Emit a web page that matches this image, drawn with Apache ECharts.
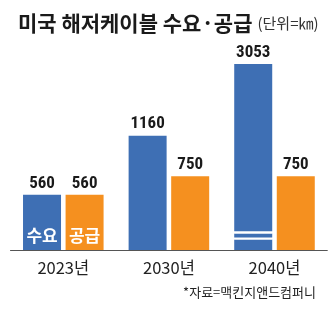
<!DOCTYPE html>
<html>
<head>
<meta charset="utf-8">
<script src="https://cdn.jsdelivr.net/npm/echarts@6/dist/echarts.min.js"></script>
<style>
  html, body { margin: 0; padding: 0; background: #fff; }
  #chart { width: 336px; height: 332px; }
</style>
</head>
<body>
<div id="chart"></div>
<script>
// ---- data ----
const categories = ['2023년', '2030년', '2040년'];
const demand = [560, 1160, 3053];        // 수요 (km)
const supply = [560, 750, 750];          // 공급 (km)
const demandShown = [560, 1160, 1888];   // drawn height (2040 bar is broken)
const seriesNames = ['수요', '공급'];
const titleText = '미국 해저케이블 수요·공급';
const unitText = '(단위=㎞)';
const sourceText = '*자료=맥킨지앤드컴퍼니';

// ---- styles ----
const BLUE = '#3e6fb4';
const ORANGE = '#f5901f';
const CJK = '"Noto Sans CJK KR", sans-serif';
const NUM = '"Roboto Condensed", Roboto, "Noto Sans CJK KR", sans-serif';
const BREAK = [107, 20, 41, 23]; // bottom, stripe, middle, stripe (axis units)
const breakSum = BREAK.reduce((a, b) => a + b, 0);
const isBroken = i => demand[i] > demandShown[i];

const common = { type: 'bar', barWidth: 38, barGap: '12%', silent: true, animation: false };
const valueLabel = (arr) => ({
  show: true, position: 'top', distance: 3,
  fontFamily: NUM, fontWeight: 'bold', fontSize: 17, color: '#1a1a1a',
  formatter: p => String(arr[p.dataIndex])
});
const innerLabel = (txt) => ({
  show: true, position: 'insideBottom', distance: 6,
  fontFamily: CJK, fontWeight: 'bold', fontSize: 17, color: '#fff',
  formatter: txt
});

const seg1 = demandShown.map((v, i) => ({
  value: isBroken(i) ? BREAK[0] : v,
  label: i === 0 ? innerLabel(seriesNames[0]) : { show: false }
}));
const segN = (k) => demandShown.map((v, i) => isBroken(i) ? BREAK[k] : '-');
const segTop = demandShown.map((v, i) => isBroken(i) ? v - breakSum : '-');

const option = {
  animation: false,
  title: [
    {
      left: 13, top: 8,
      text: '{a|' + titleText + '} {b|' + unitText + '}',
      textStyle: {
        rich: {
          a: { fontFamily: CJK, fontWeight: 'bold', fontSize: 21, color: '#1a1a1a' },
          b: { fontFamily: CJK, fontWeight: 'normal', fontSize: 15, color: '#333' }
        }
      }
    },
    {
      right: 15, top: 281,
      text: sourceText,
      textStyle: { fontFamily: CJK, fontWeight: 'normal', fontSize: 13, color: '#222' }
    }
  ],
  grid: { left: 10.5, right: 8.7, top: 53, bottom: 82, containLabel: false },
  xAxis: {
    type: 'category',
    data: categories,
    axisTick: { show: false },
    axisLine: { lineStyle: { color: '#555', width: 1 } },
    axisLabel: { fontFamily: CJK, fontSize: 16.5, color: '#222', margin: 9 }
  },
  yAxis: { type: 'value', min: 0, max: 2000, show: false, splitLine: { show: false } },
  series: [
    Object.assign({}, common, { name: seriesNames[0], stack: 'd', data: seg1, itemStyle: { color: BLUE } }),
    Object.assign({}, common, { stack: 'd', data: segN(1), itemStyle: { color: '#fff' } }),
    Object.assign({}, common, { stack: 'd', data: segN(2), itemStyle: { color: BLUE } }),
    Object.assign({}, common, { stack: 'd', data: segN(3), itemStyle: { color: '#fff' } }),
    Object.assign({}, common, { stack: 'd', data: segTop, itemStyle: { color: BLUE } }),
    Object.assign({}, common, { stack: 'd', data: demand.map(() => 0), itemStyle: { color: 'transparent' }, label: valueLabel(demand) }),
    Object.assign({}, common, {
      name: seriesNames[1], stack: 's', itemStyle: { color: ORANGE },
      data: supply.map((v, i) => ({ value: v, label: i === 0 ? innerLabel(seriesNames[1]) : { show: false } }))
    }),
    Object.assign({}, common, { stack: 's', data: supply.map(() => 0), itemStyle: { color: 'transparent' }, label: valueLabel(supply) })
  ]
};

const chart = echarts.init(document.getElementById('chart'), null, { renderer: 'canvas' });
chart.setOption(option);
</script>
</body>
</html>
